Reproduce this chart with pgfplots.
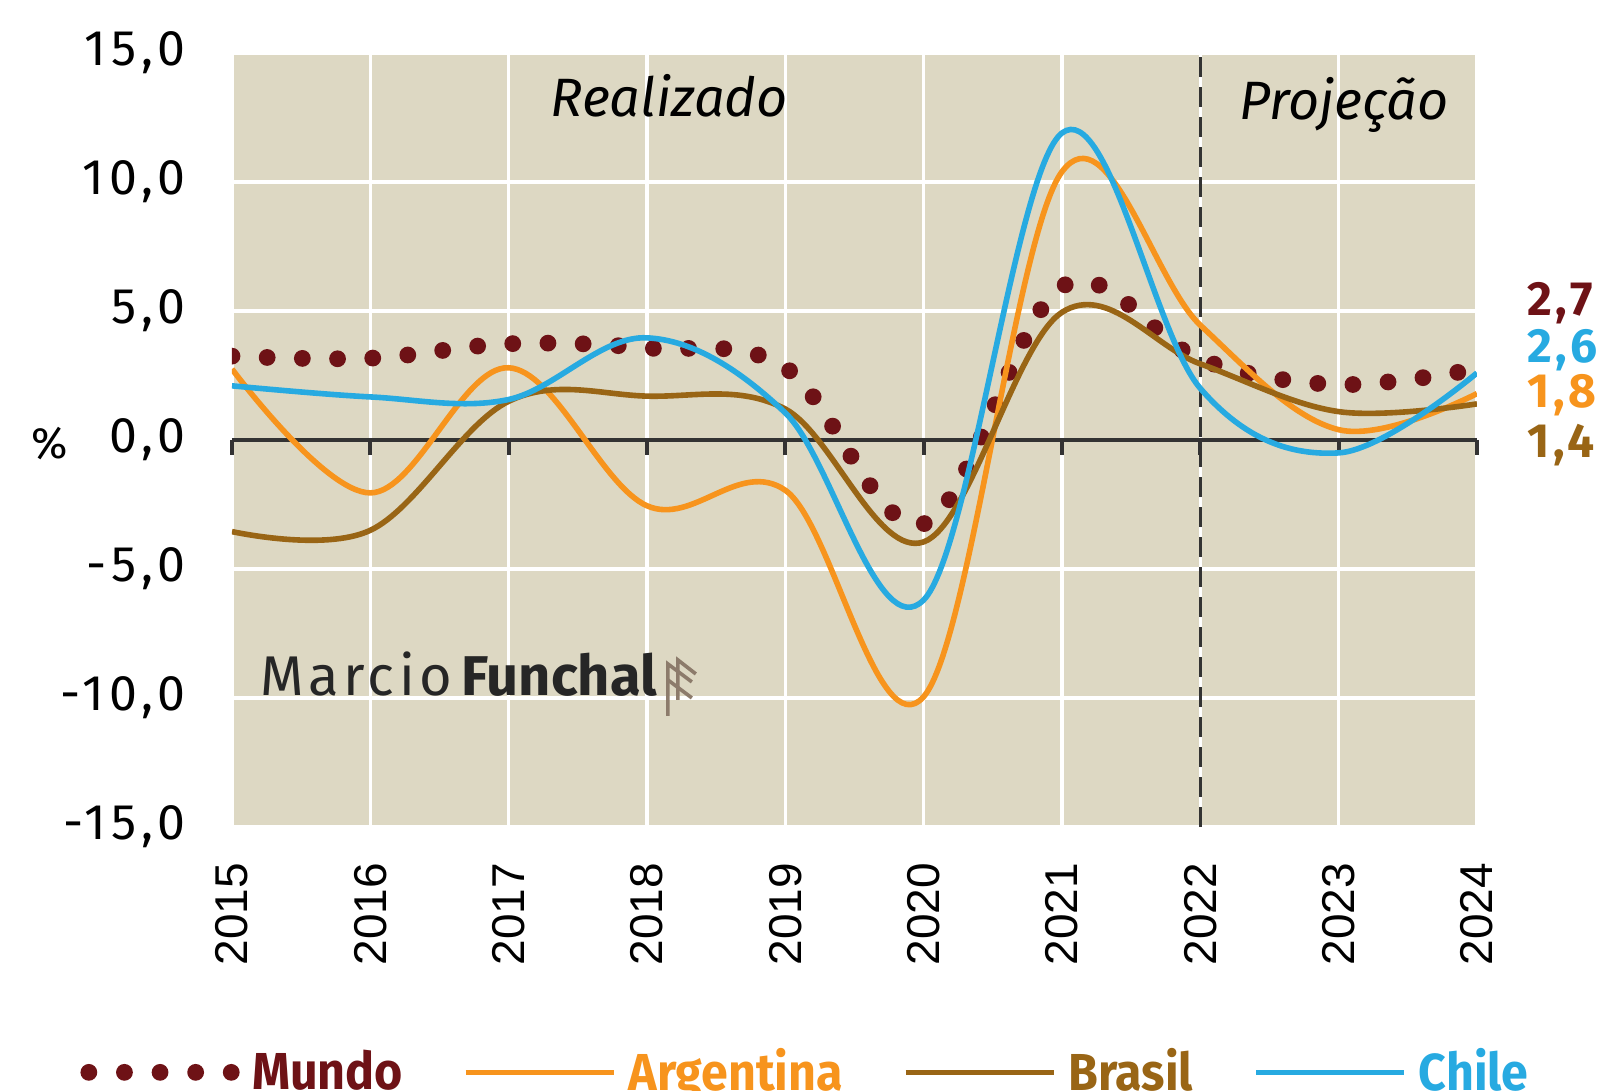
\documentclass[border=0pt]{standalone}
\usepackage{pgfplots}
\pgfplotsset{compat=1.18}
\usepackage{fontspec}
\setmainfont{Fira Sans}
\newfontfamily\xfont{Liberation Sans}
\newfontfamily\tickfont[LetterSpace=10]{Fira Sans}
\newfontfamily\labfont[LetterSpace=7]{Fira Sans}
\newfontfamily\legfont[FakeStretch=0.93]{Fira Sans}
\usetikzlibrary{calc}
\definecolor{bg}{HTML}{DDD8C3}
\definecolor{mundo}{HTML}{6E1216}
\definecolor{arg}{HTML}{F7941D}
\definecolor{bra}{HTML}{996515}
\definecolor{chi}{HTML}{27AAE1}
\definecolor{zl}{HTML}{333333}
\definecolor{logo}{HTML}{8C7B6B}
\begin{document}
\begin{tikzpicture}
\begin{axis}[
  width=311.25pt, height=193.5pt, scale only axis,
  xmin=2015, xmax=2024, ymin=-15, ymax=15,
  axis line style={draw=none},
  major tick length=0pt,
  axis background/.style={fill=bg},
  grid=major, grid style={white, line width=0.8pt},
  xtick={2015,2016,2017,2018,2019,2020,2021,2022,2023,2024},
  xticklabels={2015,2016,2017,2018,2019,2020,2021,2022,2023,2024},
  xticklabel style={font=\xfont\fontsize{11.5}{12}\selectfont, yshift=-5.5pt, rotate=90, anchor=east},
  ytick={-15,-10,-5,0,5,10,15},
  yticklabel={\pgfmathprintnumber[fixed,fixed zerofill,precision=1,use comma,assume math mode=true]{\tick}},
  yticklabel style={font=\tickfont\fontsize{12.5}{13}\selectfont, anchor=east, xshift=-8pt},
  clip mode=individual,
  legend columns=4,
  legend style={at={(rel axis cs:-0.132,-0.317)}, anchor=west, draw=none, fill=none,
    font=\legfont\bfseries\fontsize{13}{14}\selectfont,
    nodes={inner sep=0pt},
    /tikz/every odd column/.append style={column sep=3pt},
    /tikz/every even column/.append style={column sep=15pt}},
]
% zero line with ticks
\draw[zl, line width=1pt] (axis cs:2015,0) -- (axis cs:2024,0);
\pgfplotsinvokeforeach{2015,2016,2017,2018,2019,2020,2021,2022,2023,2024}{
  \draw[zl, line width=1pt] (axis cs:#1,0) -- ++(0pt,-3.7pt);
}
\draw[zl, line width=0.75pt, dash pattern=on 5pt off 2.5pt] (axis cs:2022,-15) -- (axis cs:2022,15);

\addplot[mundo, line width=4.2pt, line cap=round, dash pattern=on 0pt off 8.8pt, smooth, tension=0.6,
  legend image code/.code={\draw[mundo, line width=4.2pt, line cap=round, dash pattern=on 0pt off 8.9pt] (0pt,0pt) -- (35.7pt,0pt);}]
  coordinates {(2015,3.25) (2016,3.17) (2017,3.73) (2018,3.57) (2019,2.8) (2020,-3.25) (2021,5.95) (2022,3.12) (2023,2.15) (2024,2.75)};
\addlegendentry{\textcolor{mundo}{Mundo}}
\addplot[arg, line width=1.4pt, smooth, tension=0.6,
  legend image code/.code={\draw[arg, line width=1.4pt] (0pt,0pt) -- (37pt,0pt);}]
  coordinates {(2015,2.75) (2016,-2.05) (2017,2.8) (2018,-2.55) (2019,-1.95) (2020,-9.95) (2021,10.4) (2022,4.45) (2023,0.4) (2024,1.8)};
\addlegendentry{\textcolor{arg}{Argentina}}
\addplot[bra, line width=1.4pt, smooth, tension=0.6,
  legend image code/.code={\draw[bra, line width=1.4pt] (0pt,0pt) -- (37pt,0pt);}]
  coordinates {(2015,-3.55) (2016,-3.5) (2017,1.5) (2018,1.7) (2019,1.2) (2020,-3.95) (2021,4.95) (2022,2.95) (2023,1.1) (2024,1.4)};
\addlegendentry{\textcolor{bra}{Brasil}}
\addplot[chi, line width=1.4pt, smooth, tension=0.6,
  legend image code/.code={\draw[chi, line width=1.4pt] (0pt,0pt) -- (37pt,0pt);}]
  coordinates {(2015,2.1) (2016,1.67) (2017,1.57) (2018,3.96) (2019,1.05) (2020,-6.2) (2021,11.9) (2022,2.0) (2023,-0.5) (2024,2.6)};
\addlegendentry{\textcolor{chi}{Chile}}

\node[anchor=base, font=\itshape\fontsize{13.5}{14}\selectfont] at (axis cs:2018.16,12.52) {Realizado};
\node[anchor=base, font=\itshape\fontsize{13.5}{14}\selectfont] at (axis cs:2023.04,12.44) {Projeção};
\node[anchor=base west, inner sep=0pt, font=\fontsize{14}{15}\selectfont, text=black!85] (wm) at (axis cs:2015.2,-9.92)
  {{\addfontfeatures{LetterSpace=8}Marcio}\,\textbf{Funchal}};
\draw[logo, line width=0.9pt] ($(wm.base east)+(2.5pt,-5pt)$) -- ++(0pt,13pt) -- ++(6pt,-4.5pt);
\draw[logo, line width=0.9pt] ($(wm.base east)+(2.5pt,4pt)$) -- ++(6pt,-4.5pt);
\draw[logo, line width=0.9pt] ($(wm.base east)+(5pt,-1pt)$) -- ++(0pt,10pt) -- ++(4.5pt,-3.5pt);
\node[anchor=center, font=\fontsize{11}{12}\selectfont] at (axis cs:2015,0) [xshift=-45.5pt, yshift=-1pt] {\%};
\node[anchor=west, inner sep=0pt, text=mundo, font=\labfont\bfseries\fontsize{12}{12}\selectfont] at (axis cs:2024,5.31) [xshift=12.5pt] {2,7};
\node[anchor=west, inner sep=0pt, text=chi, font=\labfont\bfseries\fontsize{12}{12}\selectfont] at (axis cs:2024,3.49) [xshift=12.5pt] {2,6};
\node[anchor=west, inner sep=0pt, text=arg, font=\labfont\bfseries\fontsize{12}{12}\selectfont] at (axis cs:2024,1.72) [xshift=12.5pt] {1,8};
\node[anchor=west, inner sep=0pt, text=bra, font=\labfont\bfseries\fontsize{12}{12}\selectfont] at (axis cs:2024,-0.18) [xshift=12.5pt] {1,4};
\end{axis}
\pgfresetboundingbox
\path ($(current axis.south west)+(-58pt,-66pt)$) rectangle ($(current axis.north east)+(30pt,13.25pt)$);
\end{tikzpicture}
\end{document}
